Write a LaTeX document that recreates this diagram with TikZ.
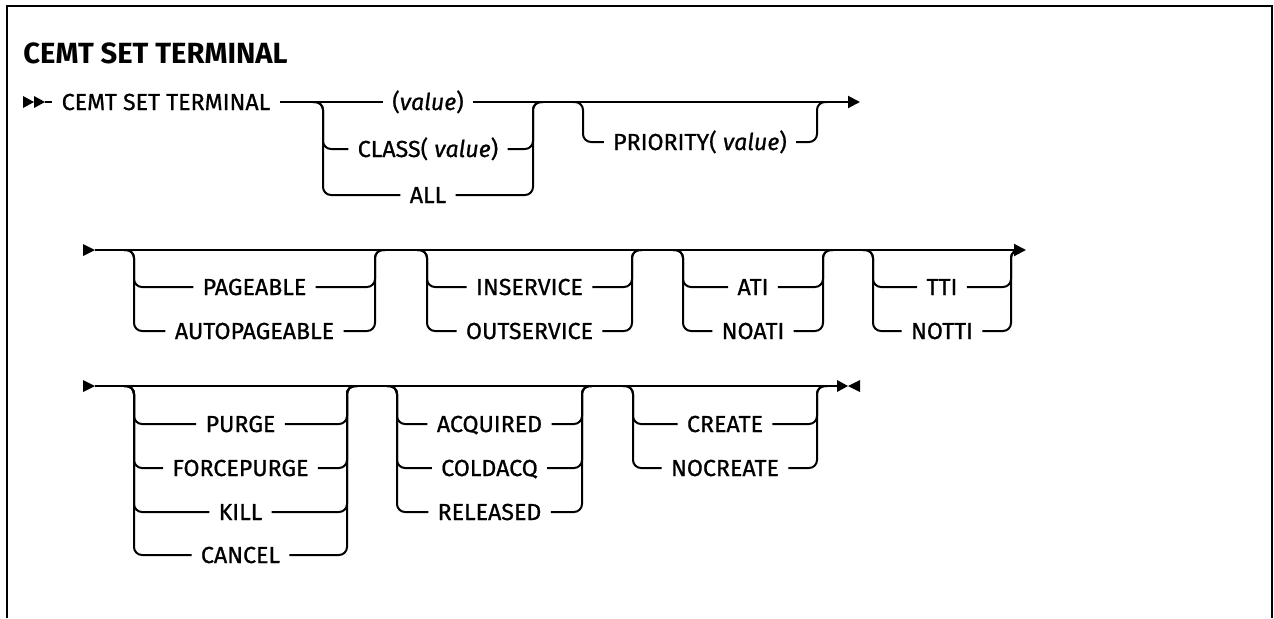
\documentclass[tikz,border=0pt]{standalone}
\usepackage{fontspec}
\setmainfont{Fira Sans}
\newfontfamily\railfont{Fira Sans}[FakeBold=0.8]
\usetikzlibrary{arrows.meta}
\tikzset{
  rail/.style={line width=1pt, rounded corners=4pt},
  opt/.style={inner xsep=4.5pt, inner ysep=0pt, text height=8pt, text depth=0pt,
    font=\railfont\fontsize{11.6}{14}\selectfont},
  title/.style={inner sep=0pt, font=\bfseries\fontsize{14.6}{17}\selectfont},
  tip/.style={-{Triangle[length=6pt,width=6pt]}}
}
\begin{document}
\begin{tikzpicture}[x=0.5pt,y=-0.5pt]
\useasboundingbox (0,0) rectangle (1274,618);
\draw[line width=1pt] (7,618) -- (7,6) -- (1272,6) -- (1272,618);
\node[title,anchor=base west] (title) at (23,63) {CEMT SET TERMINAL};

%%%%%%%%%%% ligne 1
\fill (23,96) -- (34,102) -- (23,108) -- cycle;
\fill (34,96) -- (45,102) -- (34,108) -- cycle;
\coordinate (start1) at (45,102);
\coordinate (end1) at (860,102);
\node[opt] (cmd) at (166,102) {CEMT SET TERMINAL};
\node[opt] (value) at (428,102) {(\textit{value})};
\draw[rail] (start1) -- (cmd.west);
\draw[rail] (cmd.east) -- (value.west);
\draw[rail,tip] (value.east) -- (end1);

%%%%%%%%%%% ligne 2
\fill (83,244) -- (95,250) -- (83,256) -- cycle;
\coordinate (start2) at (95,250);
\coordinate (end2) at (1026,250);
\draw[rail,tip] (start2) -- (end2);

%%%%%%%%%%% ligne 3
\fill (83,380) -- (95,386) -- (83,392) -- cycle;
\coordinate (start3) at (95,386);
\coordinate (end3) at (837,386);
\draw[rail] (start3) -- (end3);
\fill (837,380) -- (848,386) -- (837,392) -- cycle;
\fill (860,380) -- (848,386) -- (860,392) -- cycle;

% ---------------    choix
\foreach \lx/\rx/\my/\oy/\nm/\txt in {
  323/533/102/149/class/{CLASS( \textit{value})},
  323/533/102/195/all/ALL,
  583/817/102/142/priority/{PRIORITY( \textit{value})},
  134/375/250/287/pageable/PAGEABLE,
  134/375/250/331/autopageable/AUTOPAGEABLE,
  427/632/250/287/inservice/INSERVICE,
  427/632/250/331/outservice/OUTSERVICE,
  683/823/250/287/ati/ATI,
  683/823/250/331/noati/NOATI,
  873/1011/250/287/tti/TTI,
  873/1011/250/331/notti/NOTTI,
  134/347/386/424/purge/PURGE,
  134/347/386/468/forcepurge/FORCEPURGE,
  134/347/386/512/kill/KILL,
  134/347/386/555/cancel/CANCEL,
  397/582/386/424/acquired/ACQUIRED,
  397/582/386/468/coldacq/COLDACQ,
  397/582/386/512/released/RELEASED,
  633/817/386/424/create/CREATE,
  633/817/386/468/nocreate/NOCREATE}{
  \node[opt] (\nm) at ({(\lx+\rx)/2},\oy) {\txt};
  \draw[rail] (\lx-10,\my) -- (\lx,\my) -- (\lx,\oy) -- (\nm.west);
  \draw[rail] (\nm.east) -- (\rx,\oy) -- (\rx,\my) -- (\rx+10,\my);
}
\end{tikzpicture}
\end{document}
